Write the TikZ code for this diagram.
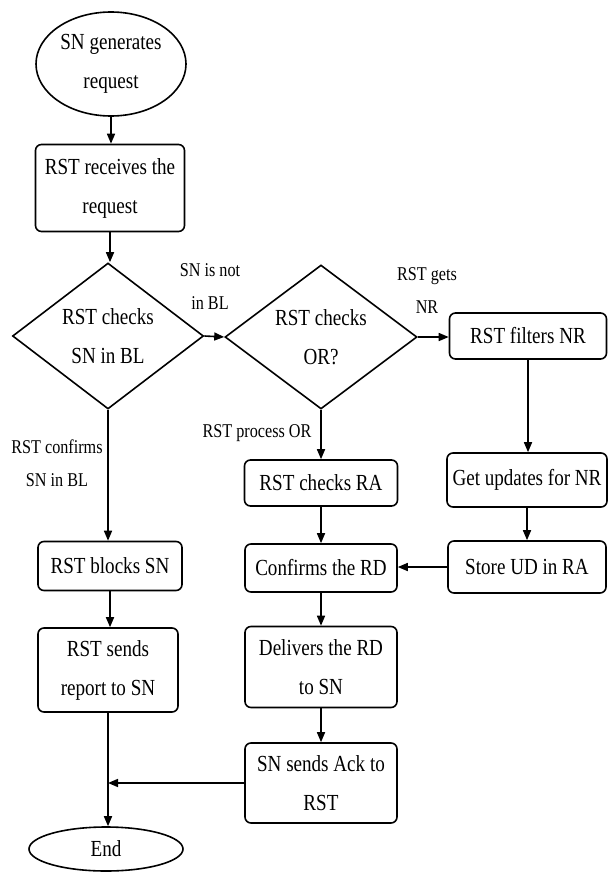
\documentclass[tikz,border=0pt]{standalone}
\usepackage{fontspec}
\setmainfont[FakeStretch=0.83]{Liberation Serif}
\usetikzlibrary{shapes.geometric,arrows.meta}
\begin{document}
\begin{tikzpicture}[x=1pt,y=-1pt,
  line width=1.6pt,
  boxtext/.style={font=\fontsize{23}{39}\selectfont},
  stepbox/.style={draw,rounded corners=6pt,align=center,inner sep=1pt,boxtext},
  term/.style={draw,ellipse,align=center,inner sep=0pt,boxtext},
  choice/.style={draw,diamond,align=center,inner sep=0pt,aspect=1.3,boxtext},
  lbl/.style={align=center,inner sep=0pt,font=\fontsize{19.5}{33}\selectfont},
  flow/.style={-{Triangle[length=10pt,width=8pt]}}]
\useasboundingbox (0,0) rectangle (608,872);
\node[term,minimum width=150,minimum height=104] (start) at (111,64) {SN generates\\request};
\node[stepbox,minimum width=149,minimum height=87] (recv) at (110,188) {RST receives the\\request};
\node[choice,minimum width=191,minimum height=146] (d1) at (108,336) {RST checks\\SN in BL};
\node[choice,minimum width=192,minimum height=144] (d2) at (321,337) {RST checks\\OR?};
\node[stepbox,minimum width=157,minimum height=46] (filt) at (528,336) {RST filters NR};
\node[stepbox,minimum width=160,minimum height=54] (upd) at (527,480) {Get updates for NR};
\node[stepbox,minimum width=158,minimum height=52] (store) at (527,567) {Store UD in RA};
\node[stepbox,minimum width=153,minimum height=46] (chk) at (321,483) {RST checks RA};
\node[stepbox,minimum width=152,minimum height=48] (conf) at (321,568) {Confirms the RD};
\node[stepbox,minimum width=152,minimum height=81] (deliv) at (321,667) {Delivers the RD\\to SN};
\node[stepbox,minimum width=152,minimum height=80] (ack) at (321,783) {SN sends Ack to\\RST};
\node[stepbox,minimum width=144,minimum height=49] (block) at (110,566) {RST blocks SN};
\node[stepbox,minimum width=140,minimum height=84] (report) at (108,670) {RST sends\\report to SN};
\node[term,minimum width=154,minimum height=44] (endn) at (106,849) {End};
\node[lbl] (l1) at (210,287) {SN is not\\in BL};
\node[lbl] (l2) at (427,291) {RST gets\\NR};
\node[lbl] (l3) at (57,463) {RST confirms\\SN in BL};
\node[lbl] (l4) at (257,433) {RST process OR};
\coordinate (join) at (report.south |- ack.west);
\draw[flow] (start.south) -- (start.south |- recv.north);
\draw[flow] (recv.south) -- (recv.south |- d1.north);
\draw[flow] (d1.east) -- (d2.west);
\draw[flow] (d2.east) -- (d2.east -| filt.west);
\draw[flow] (d1.south) -- (d1.south |- block.north);
\draw[flow] (d2.south) -- (d2.south |- chk.north);
\draw[flow] (chk.south) -- (chk.south |- conf.north);
\draw[flow] (filt.south) -- (filt.south |- upd.north);
\draw[flow] (upd.south) -- (upd.south |- store.north);
\draw[flow] (store.west) -- (store.west -| conf.east);
\draw[flow] (conf.south) -- (conf.south |- deliv.north);
\draw[flow] (deliv.south) -- (deliv.south |- ack.north);
\draw[flow] (block.south) -- (block.south |- report.north);
\draw[flow] (report.south) -- (report.south |- endn.north);
\draw[flow] (ack.west) -- (join);
\end{tikzpicture}
\end{document}
